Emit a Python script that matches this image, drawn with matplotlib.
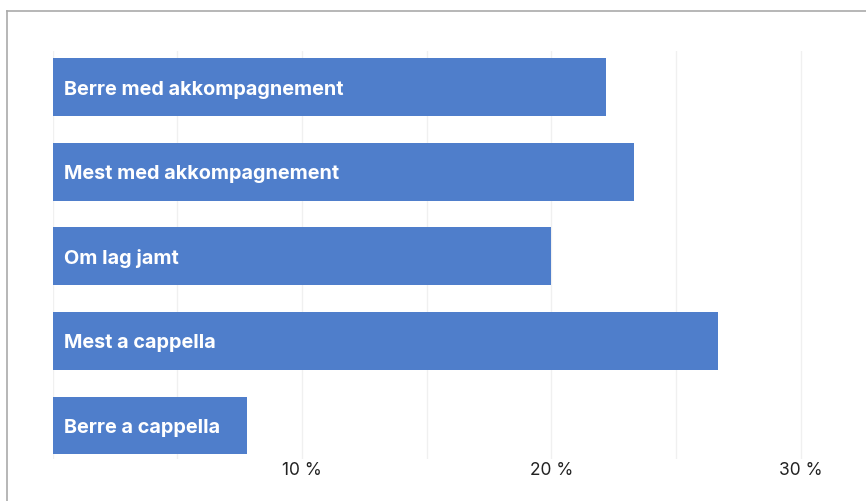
import matplotlib
matplotlib.use("Agg")
import matplotlib.pyplot as plt
from matplotlib.lines import Line2D

# ---- data ----
categories = [
    "Berre med akkompagnement",
    "Mest med akkompagnement",
    "Om lag jamt",
    "Mest a cappella",
    "Berre a cappella",
]
values = [22.2, 23.3, 20.0, 26.7, 7.8]
tick_values = [10, 20, 30]
tick_labels = ["10 %", "20 %", "30 %"]
grid_values = [0, 5, 10, 15, 20, 25, 30]

BAR_COLOR = "#4f7ecb"
plt.rcParams["font.family"] = ["Inter", "DejaVu Sans"]

fig = plt.figure(figsize=(8.66, 5.01), dpi=100)
ax = fig.add_axes([52.5 / 866, 1 - 459 / 501, (863 - 52.5) / 866, (459 - 51) / 501])

pos = list(range(len(categories)))
ax.barh(pos, values, height=0.685, color=BAR_COLOR, zorder=2)

for i, label in zip(pos, categories):
    ax.text(0.46, i + 0.03, label, color="white", fontsize=14.3, fontweight="bold",
            va="center", ha="left", zorder=3)

for g in grid_values:
    ax.axvline(g, color="#f0f0f0", linewidth=1, zorder=1)

ax.set_xlim(0, 32.5)
ax.set_ylim(4.396, -0.4255)
ax.set_yticks([])
ax.set_xticks(tick_values)
ax.set_xticklabels(tick_labels, fontsize=12.5, color="#222222")
ax.tick_params(axis="x", length=0, pad=2)
for s in ax.spines.values():
    s.set_visible(False)

# frame lines (top and left) of the surrounding box
fig.add_artist(Line2D([7.5 / 866, 1], [1 - 10.5 / 501] * 2, color="#aaaaaa", linewidth=1.2))
fig.add_artist(Line2D([7.5 / 866] * 2, [0, 1 - 10.5 / 501], color="#aaaaaa", linewidth=1.2))

fig.savefig("out.png", dpi=100)
